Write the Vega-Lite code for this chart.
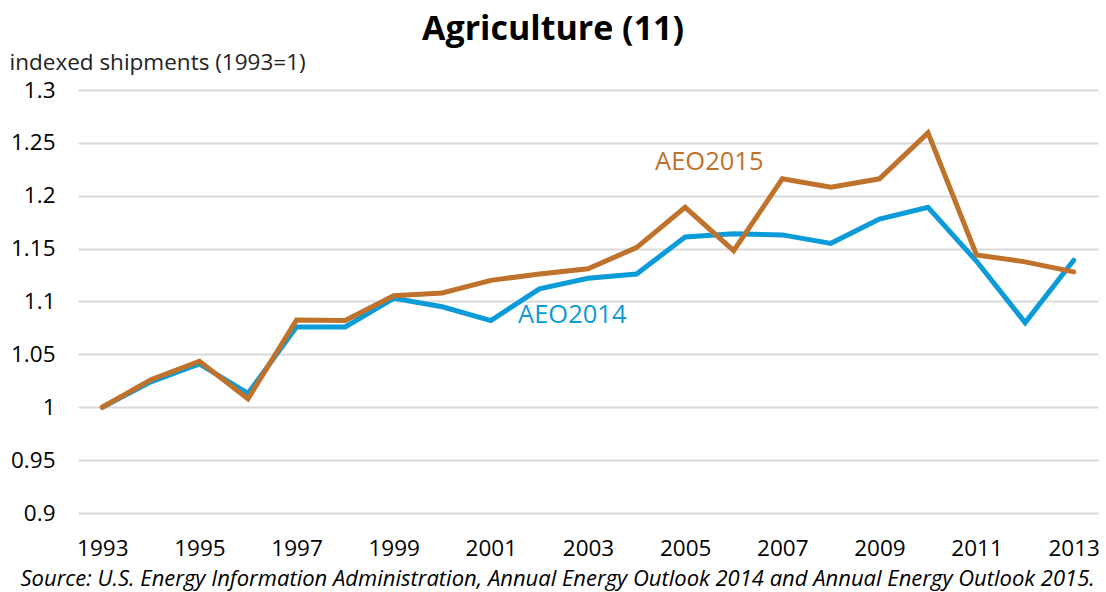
{
  "$schema": "https://vega.github.io/schema/vega-lite/v6.json",
  "autosize": {"type": "none"},
  "width": 1020,
  "height": 423,
  "padding": {"left": 78, "top": 90, "right": 8, "bottom": 79},
  "background": "white",
  "config": {
    "font": "Open Sans",
    "view": {"stroke": null}
  },
  "title": {
    "text": "Agriculture (11)",
    "font": "Open Sans",
    "fontSize": 34,
    "fontWeight": "bold",
    "color": "#000000",
    "anchor": "middle",
    "dx": -35,
    "dy": 37,
    "offset": 14,
    "baseline": "alphabetic"
  },
  "datasets": {
    "series": [
      {"year": 1993, "series": "AEO2014", "value": 1.0},
      {"year": 1994, "series": "AEO2014", "value": 1.024},
      {"year": 1995, "series": "AEO2014", "value": 1.041},
      {"year": 1996, "series": "AEO2014", "value": 1.013},
      {"year": 1997, "series": "AEO2014", "value": 1.076},
      {"year": 1998, "series": "AEO2014", "value": 1.076},
      {"year": 1999, "series": "AEO2014", "value": 1.103},
      {"year": 2000, "series": "AEO2014", "value": 1.095},
      {"year": 2001, "series": "AEO2014", "value": 1.082},
      {"year": 2002, "series": "AEO2014", "value": 1.112},
      {"year": 2003, "series": "AEO2014", "value": 1.122},
      {"year": 2004, "series": "AEO2014", "value": 1.126},
      {"year": 2005, "series": "AEO2014", "value": 1.161},
      {"year": 2006, "series": "AEO2014", "value": 1.164},
      {"year": 2007, "series": "AEO2014", "value": 1.163},
      {"year": 2008, "series": "AEO2014", "value": 1.155},
      {"year": 2009, "series": "AEO2014", "value": 1.178},
      {"year": 2010, "series": "AEO2014", "value": 1.189},
      {"year": 2011, "series": "AEO2014", "value": 1.138},
      {"year": 2012, "series": "AEO2014", "value": 1.080},
      {"year": 2013, "series": "AEO2014", "value": 1.139},
      {"year": 1993, "series": "AEO2015", "value": 1.0},
      {"year": 1994, "series": "AEO2015", "value": 1.026},
      {"year": 1995, "series": "AEO2015", "value": 1.0435},
      {"year": 1996, "series": "AEO2015", "value": 1.008},
      {"year": 1997, "series": "AEO2015", "value": 1.0825},
      {"year": 1998, "series": "AEO2015", "value": 1.082},
      {"year": 1999, "series": "AEO2015", "value": 1.1055},
      {"year": 2000, "series": "AEO2015", "value": 1.108},
      {"year": 2001, "series": "AEO2015", "value": 1.12},
      {"year": 2002, "series": "AEO2015", "value": 1.126},
      {"year": 2003, "series": "AEO2015", "value": 1.131},
      {"year": 2004, "series": "AEO2015", "value": 1.151},
      {"year": 2005, "series": "AEO2015", "value": 1.189},
      {"year": 2006, "series": "AEO2015", "value": 1.148},
      {"year": 2007, "series": "AEO2015", "value": 1.216},
      {"year": 2008, "series": "AEO2015", "value": 1.208},
      {"year": 2009, "series": "AEO2015", "value": 1.216},
      {"year": 2010, "series": "AEO2015", "value": 1.2595},
      {"year": 2011, "series": "AEO2015", "value": 1.144},
      {"year": 2012, "series": "AEO2015", "value": 1.1375},
      {"year": 2013, "series": "AEO2015", "value": 1.128}
    ],
    "labels": [
      {"year": 2004.38, "series": "AEO2015", "value": 1.2316},
      {"year": 2001.56, "series": "AEO2014", "value": 1.087}
    ]
  },
  "layer": [
    {
      "data": {"name": "series"},
      "mark": {"type": "line", "strokeWidth": 5, "strokeJoin": "miter", "strokeCap": "round", "clip": false},
      "encoding": {
        "x": {
          "field": "year", "type": "quantitative",
          "scale": {"domain": [1992.5, 2013.5], "nice": false, "zero": false},
          "axis": {
            "values": [1993, 1995, 1997, 1999, 2001, 2003, 2005, 2007, 2009, 2011, 2013],
            "format": "d",
            "grid": false, "domain": false, "ticks": false,
            "labelFont": "Open Sans", "labelFontSize": 22.5, "labelColor": "#000000",
            "labelPadding": 35, "labelBaseline": "middle",
            "title": "Source: U.S. Energy Information Administration, Annual Energy Outlook 2014 and Annual Energy Outlook 2015.",
            "titleFont": "Open Sans", "titleFontStyle": "italic", "titleFontWeight": "normal",
            "titleFontSize": 22, "titleColor": "#000000",
            "titleAnchor": "start", "titleAlign": "left", "titleBaseline": "middle",
            "titleX": -58, "titleY": 65
          }
        },
        "y": {
          "field": "value", "type": "quantitative",
          "scale": {"domain": [0.9, 1.3], "nice": false, "zero": false},
          "axis": {
            "values": [0.9, 0.95, 1, 1.05, 1.1, 1.15, 1.2, 1.25, 1.3],
            "format": ".2~f",
            "grid": true, "gridColor": "#D9D9D9", "gridWidth": 2,
            "domain": false, "ticks": false,
            "labelFont": "Open Sans", "labelFontSize": 22.5, "labelColor": "#000000",
            "labelPadding": 23,
            "title": "indexed shipments (1993=1)",
            "titleFont": "Open Sans", "titleFontWeight": "normal", "titleFontSize": 22.5,
            "titleColor": "#222222", "titleAngle": 0, "titleAlign": "left",
            "titleBaseline": "middle", "titleX": -69, "titleY": -28
          }
        },
        "color": {
          "field": "series", "type": "nominal",
          "scale": {"domain": ["AEO2014", "AEO2015"], "range": ["#0A9BD8", "#BE722B"]},
          "legend": null
        }
      }
    },
    {
      "data": {"name": "labels"},
      "mark": {"type": "text", "align": "left", "baseline": "middle", "font": "Open Sans", "fontSize": 25.5},
      "encoding": {
        "x": {"field": "year", "type": "quantitative"},
        "y": {"field": "value", "type": "quantitative"},
        "text": {"field": "series"},
        "color": {"field": "series", "type": "nominal", "legend": null}
      }
    }
  ]
}
